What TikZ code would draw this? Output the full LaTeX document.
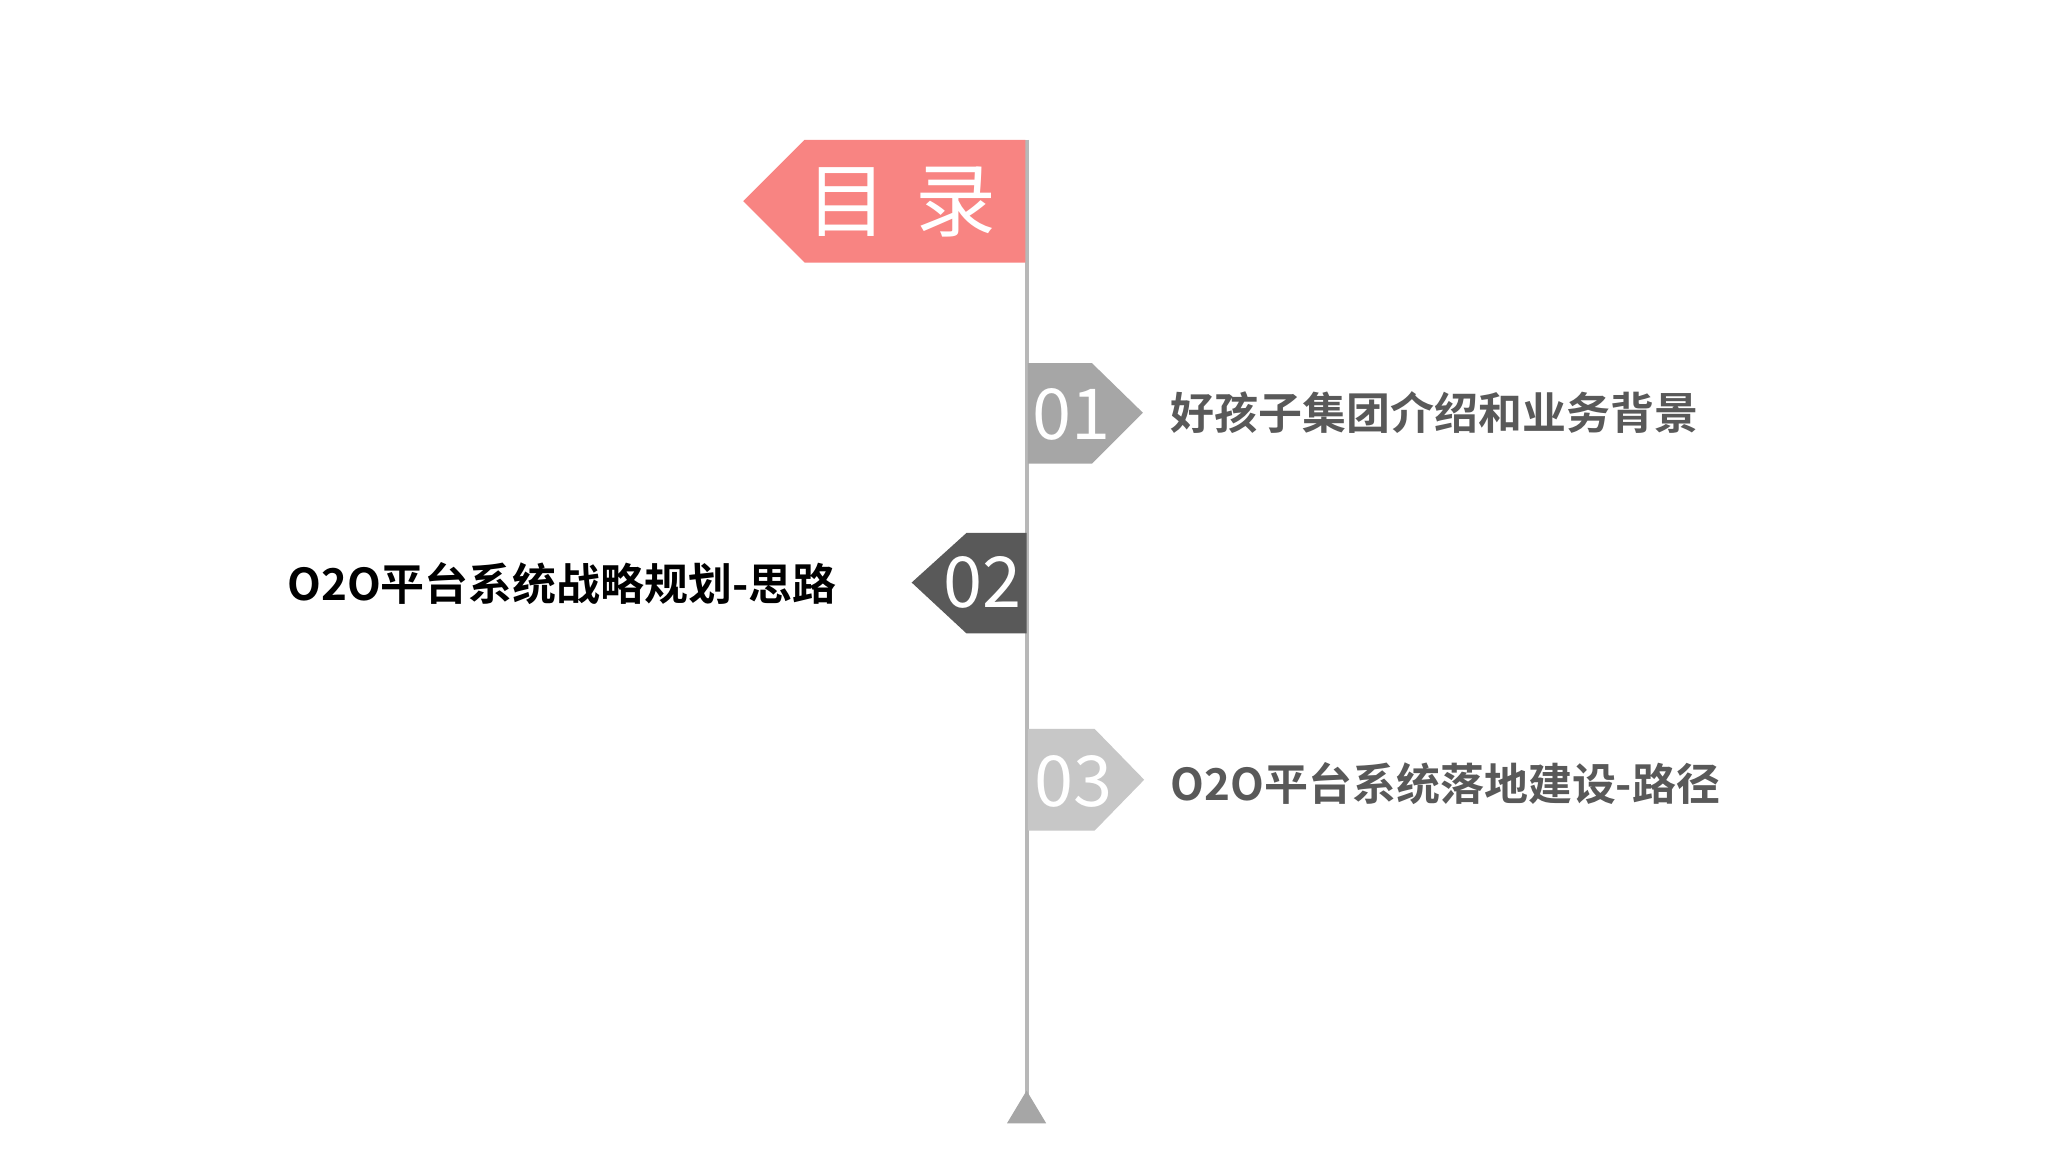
\documentclass[tikz,border=0pt]{standalone}
\usepackage{fontspec}
\setmainfont{Noto Sans CJK SC}
\newfontfamily\cjkb{Noto Sans CJK SC Bold}
\begin{document}
\begin{tikzpicture}[x=0.01306cm,y=-0.01306cm,
  numtxt/.style={text=white,font=\fontsize{20}{24}\selectfont},
  lbl/.style={font=\cjkb\fontsize{12.5}{15}\selectfont}]
\useasboundingbox (0,0) rectangle (1568,882);
\fill[white] (0,0) rectangle (1568,882);
\draw[line width=1.2pt,color=black!28] (786,107) -- (786,842);
\fill[black!35] (786,835) -- (801,860) -- (771,860) -- cycle;
\fill[color={rgb,255:red,248;green,132;blue,130}] (785,107) -- (616,107) -- (569,154) -- (616,201) -- (785,201) -- cycle;
\node[text=white,font=\fontsize{23}{28}\selectfont] (t) at (690,155) {目\hspace{0.35em}录};
\fill[black!35] (787,278) -- (836,278) -- (875,316) -- (836,355) -- (787,355) -- cycle;
\node[numtxt] (n1) at (820,317) {01};
\node[lbl,anchor=west,text=black!65] (l1) at (887,316) {好孩子集团介绍和业务背景};
\fill[black!65] (786,408) -- (740,408) -- (698,446) -- (740,485) -- (786,485) -- cycle;
\node[numtxt] (n2) at (752,446) {02};
\node[lbl,anchor=east,text=black] (l2) at (650,447) {O2O平台系统战略规划-思路};
\fill[black!22] (787,558) -- (838,558) -- (876,597) -- (838,636) -- (787,636) -- cycle;
\node[numtxt] (n3) at (822,598) {03};
\node[lbl,anchor=west,text=black!65] (l3) at (887,600) {O2O平台系统落地建设-路径};
\end{tikzpicture}
\end{document}
